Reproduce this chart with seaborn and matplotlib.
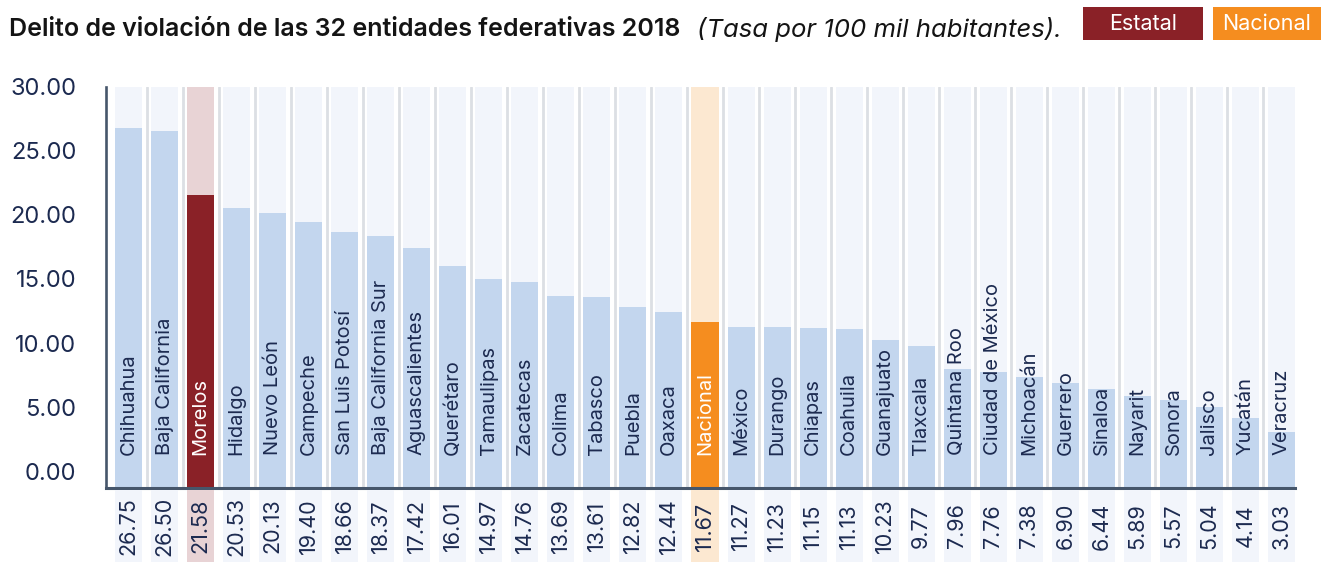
import matplotlib
matplotlib.use("Agg")
import matplotlib.pyplot as plt
from matplotlib.patches import Rectangle
import seaborn as sns
import pandas as pd
import numpy as np

# ---------------- data ----------------
entidades = ["Chihuahua", "Baja California", "Morelos", "Hidalgo", "Nuevo León",
             "Campeche", "San Luis Potosí", "Baja California Sur", "Aguascalientes",
             "Querétaro", "Tamaulipas", "Zacatecas", "Colima", "Tabasco", "Puebla",
             "Oaxaca", "Nacional", "México", "Durango", "Chiapas", "Coahuila",
             "Guanajuato", "Tlaxcala", "Quintana Roo", "Ciudad de México", "Michoacán",
             "Guerrero", "Sinaloa", "Nayarit", "Sonora", "Jalisco", "Yucatán", "Veracruz"]
tasas = [26.75, 26.50, 21.58, 20.53, 20.13, 19.40, 18.66, 18.37, 17.42, 16.01,
         14.97, 14.76, 13.69, 13.61, 12.82, 12.44, 11.67, 11.27, 11.23, 11.15,
         11.13, 10.23, 9.77, 7.96, 7.76, 7.38, 6.90, 6.44, 5.89, 5.57, 5.04, 4.14, 3.03]
estatal = "Morelos"
nacional = "Nacional"
y_ticks = [0, 5, 10, 15, 20, 25, 30]
titulo = "Delito de violación de las 32 entidades federativas 2018"
subtitulo = "(Tasa por 100 mil habitantes)."
leyenda = ["Estatal", "Nacional"]

# ---------------- style ----------------
sns.set_style("white")
plt.rcParams["font.family"] = ["Inter", "DejaVu Sans"]

NAVY = "#1c2a50"
AXC = "#46566b"
C_BAR = "#c3d6ee"
C_BG = "#f2f5fb"
C_EST = "#8a2127"
C_EST_BG = "#e8d3d5"
C_NAC = "#f58d1f"
C_NAC_BG = "#fce8d1"

W, H = 1321, 562
fig = plt.figure(figsize=(W / 100, H / 100), dpi=100)

YMIN, YMAX = -1.3, 30.0
ax_l, ax_r, ax_t, ax_b = 106, 1295, 86.5, 488
ax = fig.add_axes([ax_l / W, 1 - ax_b / H, (ax_r - ax_l) / W, (ax_b - ax_t) / H])

n = len(entidades)
tipo = ["Estatal" if e == estatal else "Nacional" if e == nacional else "Otra" for e in entidades]
df = pd.DataFrame({"entidad": entidades, "tasa": tasas, "tipo": tipo})
df["altura"] = df["tasa"] - YMIN

fg_pal = {"Otra": C_BAR, "Estatal": C_EST, "Nacional": C_NAC}
bg_pal = {"Otra": C_BG, "Estatal": C_EST_BG, "Nacional": C_NAC_BG}

# background bars (full scale)
df["fondo"] = YMAX - YMIN
sns.barplot(data=df, x="entidad", y="fondo", hue="tipo", palette=bg_pal, dodge=False,
            width=0.75, bottom=YMIN, legend=False, ax=ax, linewidth=0, zorder=1,
            saturation=1)
# value bars
sns.barplot(data=df, x="entidad", y="altura", hue="tipo", palette=fg_pal, dodge=False,
            width=0.75, bottom=YMIN, legend=False, ax=ax, linewidth=0, zorder=2,
            saturation=1)

ax.set_xlim(-0.625, n - 1 + 0.375)
ax.set_ylim(YMIN, YMAX)

# separators
for i in range(n - 1):
    ax.axvline(i + 0.5, color="#dcdfe4", lw=2, zorder=0.5)

# category labels inside bars
for i, (e, t) in enumerate(zip(entidades, tipo)):
    ax.text(i, 1.27, e, rotation=90, ha="center", va="bottom", fontsize=14.5,
            color="white" if t != "Otra" else NAVY, zorder=3)

# axes styling
ax.set_xlabel("")
ax.set_ylabel("")
ax.set_xticks([])
ax.set_xticks(np.arange(n - 1) + 0.5, minor=True)
ax.tick_params(axis="x", which="minor", length=21.5, width=1.6, color=AXC, direction="out")
ax.set_yticks(y_ticks)
ax.set_yticklabels([f"{v:.2f}" for v in y_ticks])
ax.tick_params(axis="y", length=14.4, width=1.9, color=AXC, pad=7, labelsize=17,
               labelcolor=NAVY)
for s in ["top", "right"]:
    ax.spines[s].set_visible(False)
ax.spines["left"].set_color(AXC)
ax.spines["left"].set_linewidth(1.9)
ax.spines["bottom"].set_color(AXC)
ax.spines["bottom"].set_linewidth(2.2)
ax.patch.set_alpha(0)

# value boxes below
axv = fig.add_axes([ax_l / W, 0, (ax_r - ax_l) / W, (H - 490) / H])
df["caja"] = 1.0
sns.barplot(data=df, x="entidad", y="caja", hue="tipo", palette=bg_pal,
            dodge=False, width=0.75, legend=False, ax=axv, linewidth=0, saturation=1)
axv.set_xlim(ax.get_xlim())
axv.set_ylim(0, 1)
axv.axis("off")
for i, v in enumerate(tasas):
    axv.text(i, 0.5, f"{v:.2f}", rotation=90, ha="center", va="center",
             fontsize=15.5, color=NAVY)

# title
t1 = fig.text(9 / W, 1 - 29 / H, titulo, fontsize=18, fontweight="semibold",
              color="#141414", va="center", ha="left")
fig.canvas.draw()
bb = t1.get_window_extent()
fig.text((bb.x1 + 17) / W, 1 - 29 / H, subtitulo, fontsize=18.5, style="italic",
         color="#141414", va="center", ha="left")

# legend boxes
boxes = [(1083, 1203, C_EST), (1213, 1321, C_NAC)]
for (x0, x1, c), lab in zip(boxes, leyenda):
    fig.patches.append(Rectangle((x0 / W, 1 - 39.5 / H), (x1 - x0) / W, 32.5 / H,
                                 transform=fig.transFigure, facecolor=c, edgecolor="none"))
    fig.text((x0 + x1) / 2 / W, 1 - 23.5 / H, lab, fontsize=15.5, color="white",
             ha="center", va="center")

fig.savefig("out.png", dpi=100)
